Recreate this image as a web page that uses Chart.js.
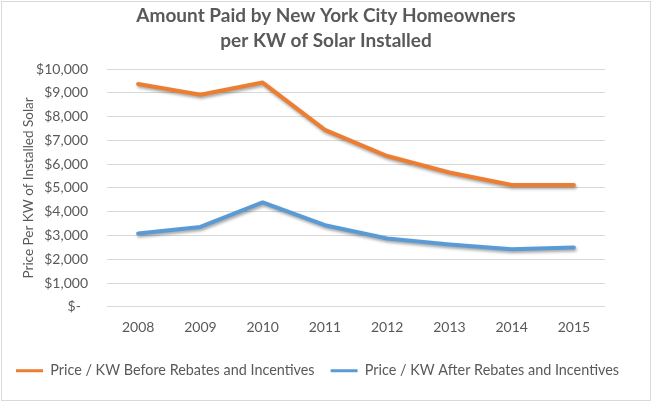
<!DOCTYPE html>
<html>
<head>
<meta charset="utf-8">
<script src="https://cdn.jsdelivr.net/npm/chart.js@4.4.1/dist/chart.umd.min.js"></script>
<style>
	html, body { margin: 0; padding: 0; background: #fff; }
	#box { width: 652px; height: 402px; }
</style>
</head>
<body>
<div id="box"><canvas id="miGrafico" width="652" height="402"></canvas></div>
<script>
const years = ["2008", "2009", "2010", "2011", "2012", "2013", "2014", "2015"];
const beforeRebates = [9370, 8920, 9430, 7440, 6340, 5650, 5120, 5120];
const afterRebates = [3080, 3360, 4390, 3430, 2870, 2620, 2420, 2490];
const yTickLabels = ["$-", "$1,000", "$2,000", "$3,000", "$4,000", "$5,000", "$6,000", "$7,000", "$8,000", "$9,000", "$10,000"];

const gray = "#595959";
const font = "Lato";

// white background, thin frame and a soft shadow under the lines
const chartFrame = {
	id: "chartFrame",
	beforeDraw(chart) {
		const c = chart.ctx;
		c.save();
		c.fillStyle = "#fff";
		c.fillRect(0, 0, chart.width, chart.height);
		c.strokeStyle = "#d9d9d9";
		c.lineWidth = 1;
		c.strokeRect(1.5, 1.5, 649, 399);
		c.restore();
	},
	beforeDatasetDraw(chart) {
		const c = chart.ctx;
		c.save();
		c.shadowColor = "rgba(0,0,0,0.35)";
		c.shadowBlur = 3;
		c.shadowOffsetX = 1;
		c.shadowOffsetY = 2;
	},
	afterDatasetDraw(chart) {
		chart.ctx.restore();
	},
};

function initGrafico() {
	const ctx = document.getElementById("miGrafico");

	new Chart(ctx, {
		type: "line",
		data: {
			labels: years,
			datasets: [
				{
					label: "Price / KW Before Rebates and Incentives",
					data: beforeRebates,
					borderColor: "#ED7D31",
					backgroundColor: "#ED7D31",
					borderWidth: 4,
				},
				{
					label: "Price / KW After Rebates and Incentives",
					data: afterRebates,
					borderColor: "#5B9BD5",
					backgroundColor: "#5B9BD5",
					borderWidth: 4,
				},
			],
		},
		options: {
			responsive: false,
			animation: false,
			devicePixelRatio: 1,
			elements: {
				point: { radius: 0 },
				line: { tension: 0, borderCapStyle: "round", borderJoinStyle: "round" },
			},
			layout: { padding: { left: 0, right: 0, top: 0, bottom: 14 } },
			plugins: {
				title: {
					display: true,
					text: ["Amount Paid by New York City Homeowners", "per KW of Solar Installed"],
					color: gray,
					font: { family: font, size: 19, weight: "bold", lineHeight: "25px" },
					padding: { top: 3, bottom: 16 },
				},
				legend: {
					position: "bottom",
					align: "start",
					labels: {
						color: gray,
						font: { family: font, size: 14.4 },
						boxWidth: 27,
						boxHeight: 3,
						padding: 16,
						generateLabels(chart) {
							const items = Chart.defaults.plugins.legend.labels.generateLabels(chart);
							return items.map((it) => ({ ...it, lineWidth: 0 }));
						},
					},
				},
				tooltip: { enabled: false },
			},
			scales: {
				x: {
					offset: true,
					afterFit(scale) {
						scale.height += 8;
					},
					grid: { display: false },
					border: { display: false },
					ticks: { color: gray, font: { family: font, size: 14 }, padding: 4, maxRotation: 0 },
				},
				y: {
					min: 0,
					max: 10000,
					afterFit(scale) {
						scale.width = 107;
					},
					grid: { color: "#d9d9d9", drawTicks: false },
					border: { display: false },
					ticks: {
						stepSize: 1000,
						padding: 19,
						color: gray,
						font: { family: font, size: 14 },
						callback: (v, i) => (i === 0 ? yTickLabels[i] + "  " : yTickLabels[i]),
					},
					title: {
						display: true,
						text: "Price Per KW of Installed Solar",
						color: gray,
						font: { family: font, size: 13.5 },
						padding: { top: 21, bottom: 0 },
					},
				},
				// empty right-hand axis that only keeps the plot's right margin
				yRight: {
					position: "right",
					afterFit(scale) {
						scale.width = 47;
					},
					grid: { display: false },
					border: { display: false },
					ticks: { display: false },
				},
			},
		},
		plugins: [chartFrame],
	});
}

initGrafico();
</script>
</body>
</html>
